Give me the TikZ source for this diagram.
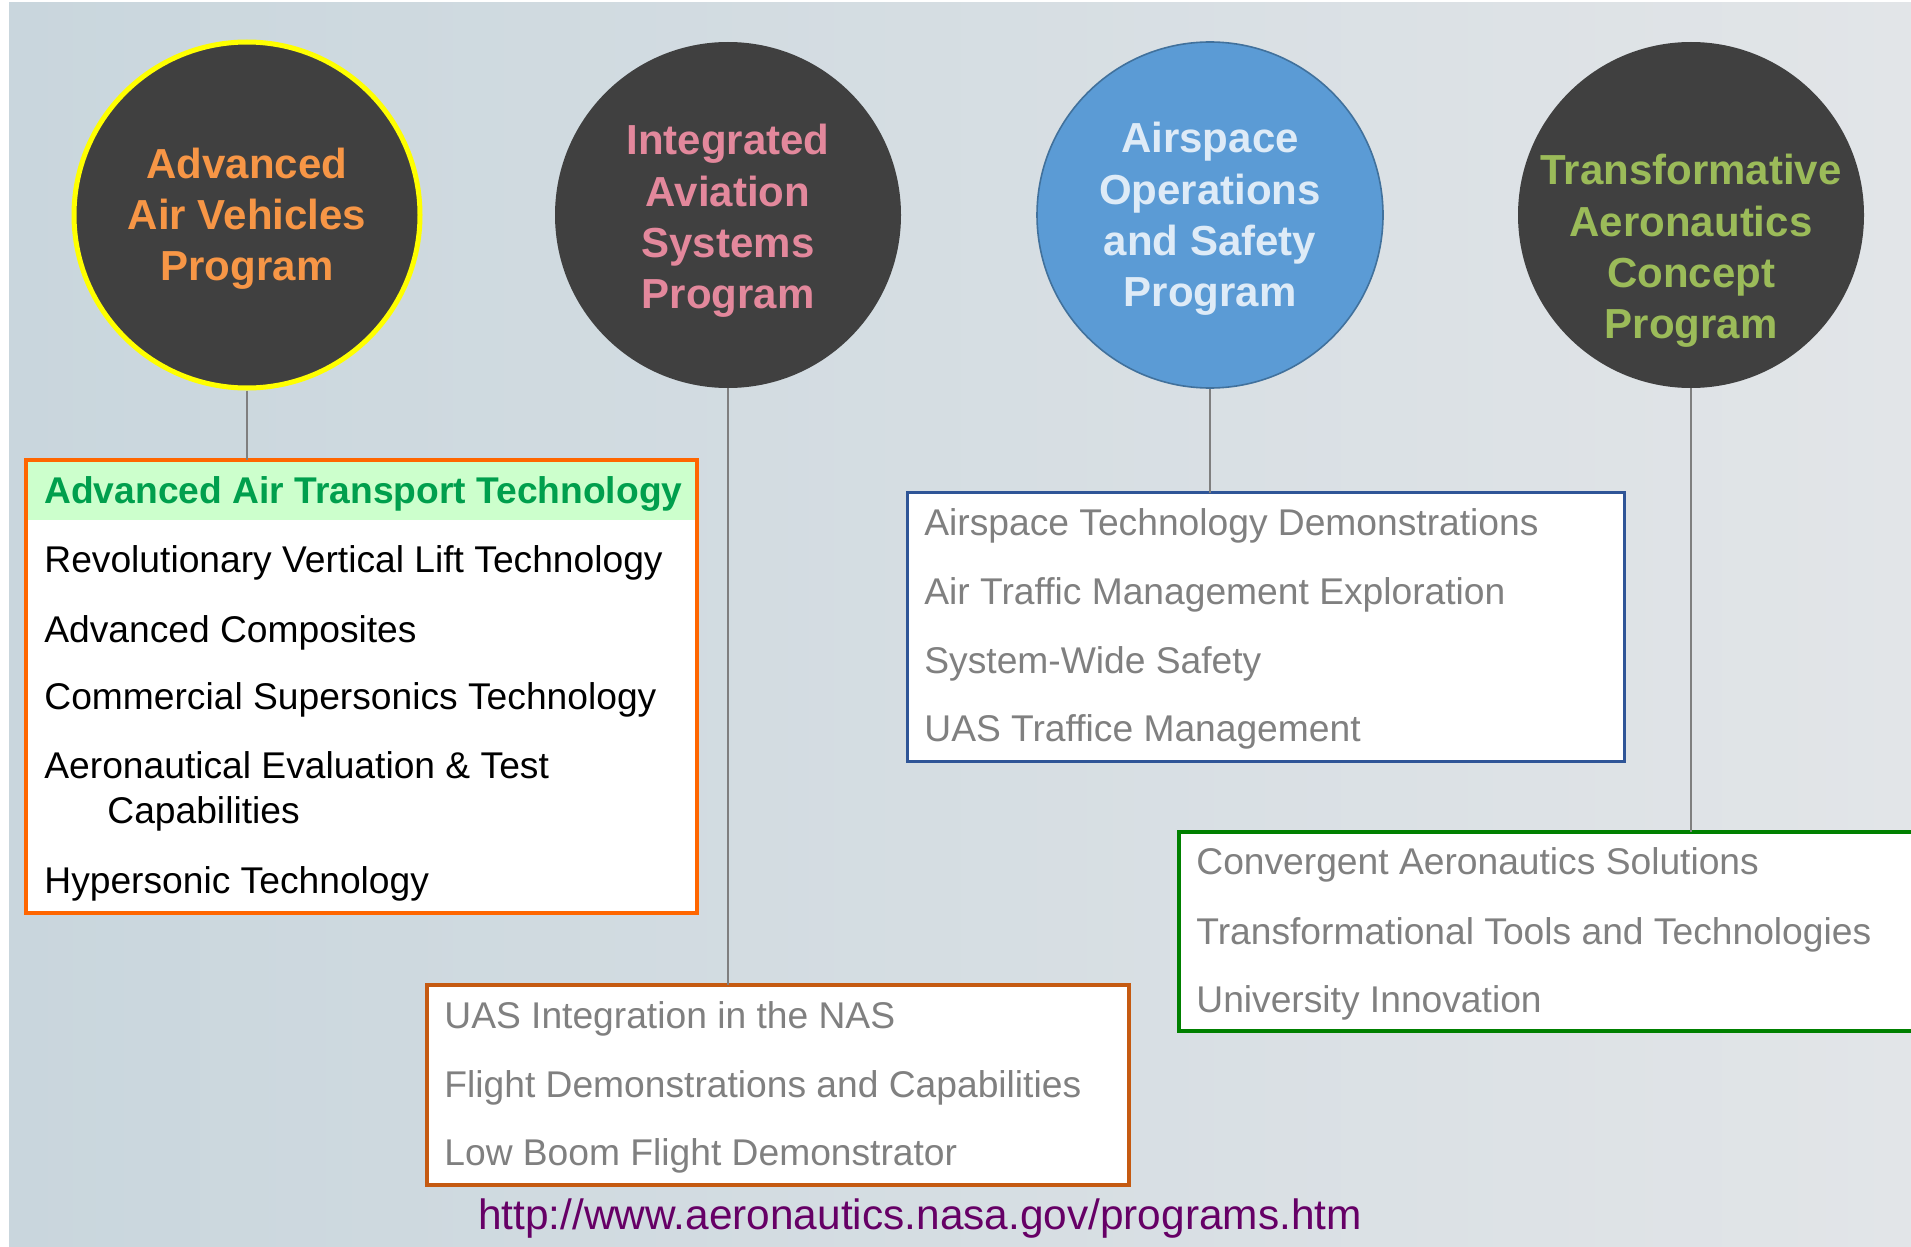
\documentclass[tikz,border=0pt]{standalone}
\usepackage{fontspec}
\setmainfont{Liberation Sans}
\usepackage{tikz}
\usetikzlibrary{calc}

% Farben
\definecolor{hglinks}{HTML}{C9D6DD}
\definecolor{hgrechts}{HTML}{E2E5E8}
\definecolor{kgrau}{HTML}{404040}
\definecolor{kgelb}{HTML}{FFFF00}
\definecolor{kblau}{HTML}{5B9BD5}
\definecolor{kblaurand}{HTML}{41719C}
\definecolor{taav}{HTML}{F79646}
\definecolor{tias}{HTML}{E3889C}
\definecolor{taos}{HTML}{DEEBF7}
\definecolor{ttac}{HTML}{9BBB59}
\definecolor{randaav}{HTML}{FF6600}
\definecolor{randias}{HTML}{C55A11}
\definecolor{randaos}{HTML}{2F5597}
\definecolor{randtac}{HTML}{008000}
\definecolor{kopfgruen}{HTML}{CCFFCC}
\definecolor{kopftext}{HTML}{009F4D}
\definecolor{eintraggrau}{HTML}{808080}
\definecolor{lgrau}{HTML}{7F7F7F}
\definecolor{lila}{HTML}{660066}

\begin{document}
\begin{tikzpicture}[x=0.5pt,y=-0.5pt,
    kreis/.style={circle, fill=kgrau, minimum size=173pt, inner sep=0pt},
    ktext/.style={align=center, font=\fontsize{21}{25.6}\selectfont\bfseries},
    kasten/.style={rectangle, fill=white, anchor=north west, inner sep=0pt, outer sep=0pt},
    eintrag/.style={anchor=base west, inner sep=0pt, font=\fontsize{18.6}{20}\selectfont},
    verbinder/.style={draw=lgrau, line width=0.9pt}]

    % Hintergrund
    \useasboundingbox (0,0) rectangle (1911,1247);
    \clip (0,0) rectangle (1911,1247);
    \fill[white] (0,0) rectangle (1911,1247);
    \shade[left color=hglinks, right color=hgrechts] (9,3) rectangle (1911,1247);

    % Zeichne die vier Programmkreise
    \node[kreis, draw=kgelb, line width=2.5pt] (kaav) at (247,215) {};
    \node[kreis] (kias) at (728,215) {};
    \node[kreis, fill=kblau, draw=kblaurand, line width=0.8pt] (kaos) at (1210,215) {};
    \node[kreis] (ktac) at (1691,215) {};

    % Beschriftung der Kreise
    \node[ktext, text=taav, yshift=-2pt] (naav) at (kaav) {Advanced\\Air Vehicles\\Program};
    \node[ktext, text=tias, yshift=-3pt] (nias) at (kias) {Integrated\\Aviation\\Systems\\Program};
    \node[ktext, text=taos, yshift=-2pt] (naos) at (kaos) {Airspace\\Operations\\and Safety\\Program};
    \node[ktext, text=ttac, yshift=-18pt] (ntac) at (ktac) {Transformative\\Aeronautics\\Concept\\Program};

    % Kaesten der Projekte
    \node[kasten, minimum width=335.5pt, minimum height=226.5pt] (bxaav) at (26,460) {};
    \node[kasten, fill=kopfgruen, minimum width=335.5pt, minimum height=30pt] (kopf) at (bxaav.north west) {};
    \draw[randaav, line width=2pt] (bxaav.north west) rectangle (bxaav.south east);
    \node[kasten, draw=randias, line width=2pt, minimum width=351pt, minimum height=100pt] (bxias) at (427,985) {};
    \node[kasten, draw=randaos, line width=1.5pt, minimum width=358.5pt, minimum height=134.5pt] (bxaos) at (907.5,492.5) {};
    \node[kasten, draw=randtac, line width=1.8pt, minimum width=400pt, minimum height=99.5pt] (bxtac) at (1179,832) {};

    % Verbindungslinien Kreis -- Kasten
    \draw[verbinder] (kaav.south) -- (kaav.south |- bxaav.north);
    \draw[verbinder] (kias.south) -- (kias.south |- bxias.north);
    \draw[verbinder] (kaos.south) -- (kaos.south |- bxaos.north);
    \draw[verbinder] (ktac.south) -- (ktac.south |- bxtac.north);

    % Projekte AAVP
    \node[eintrag, text=kopftext, font=\fontsize{18.6}{20}\selectfont\bfseries] (aav0) at (44,503) {Advanced Air Transport Technology};
    \node[eintrag] (aav1) at (44,572) {Revolutionary Vertical Lift Technology};
    \node[eintrag] (aav2) at (44,642) {Advanced Composites};
    \node[eintrag] (aav3) at (44,709) {Commercial Supersonics Technology};
    \node[eintrag] (aav4) at (44,778) {Aeronautical Evaluation \& Test};
    \node[eintrag] (aav5) at (107,823) {Capabilities};
    \node[eintrag] (aav6) at (44,893) {Hypersonic Technology};

    % Projekte IASP
    \node[eintrag, text=eintraggrau] (ias1) at (444,1028) {UAS Integration in the NAS};
    \node[eintrag, text=eintraggrau] (ias2) at (444,1097) {Flight Demonstrations and Capabilities};
    \node[eintrag, text=eintraggrau] (ias3) at (444,1165) {Low Boom Flight Demonstrator};

    % Projekte AOSP
    \node[eintrag, text=eintraggrau] (aos1) at (924,535) {Airspace Technology Demonstrations};
    \node[eintrag, text=eintraggrau] (aos2) at (924,604) {Air Traffic Management Exploration};
    \node[eintrag, text=eintraggrau] (aos3) at (924,673) {System-Wide Safety};
    \node[eintrag, text=eintraggrau] (aos4) at (924,741) {UAS Traffice Management};

    % Projekte TACP
    \node[eintrag, text=eintraggrau] (tac1) at (1196,874) {Convergent Aeronautics Solutions};
    \node[eintrag, text=eintraggrau] (tac2) at (1196,944) {Transformational Tools and Technologies};
    \node[eintrag, text=eintraggrau] (tac3) at (1196,1012) {University Innovation};

    % Quelle
    \node[anchor=base, inner sep=0pt, text=lila, font=\fontsize{21.2}{24}\selectfont] (quelle) at (920,1229) {http://www.aeronautics.nasa.gov/programs.htm};

\end{tikzpicture}
\end{document}
